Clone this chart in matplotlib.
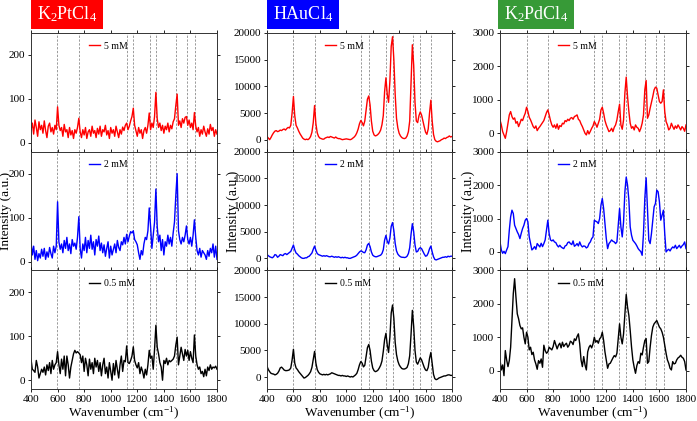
import numpy as np
import matplotlib
matplotlib.use('Agg')
import matplotlib.pyplot as plt

plt.rcParams['font.family'] = 'Liberation Serif'
plt.rcParams['mathtext.fontset'] = 'custom'
plt.rcParams['mathtext.rm'] = 'Liberation Serif'
plt.rcParams['mathtext.it'] = 'Liberation Serif:italic'

# spectra sampled every 10 cm-1 from 400 to 1800
pt_5mM = [30, 45, 20, 52, 35, 15, 48, 30, 40, 22, 50, 28, 12, 38, 45, 25, 35, 20, 40, 30,
          82, 40, 28, 35, 15, 42, 25, 30, 12, 35, 18, 28, 10, 30, 22, 35, 56, 25, 12, 30,
          18, 35, 10, 25, 30, 15, 38, 22, 28, 12, 33, 20, 38, 15, 30, 25, 40, 18, 28, 10,
          35, 22, 30, 15, 38, 25, 12, 30, 20, 36, 28, 40, 45, 30, 38, 50, 60, 79, 40, 28,
          15, 35, 22, 30, 10, 28, 35, 22, 40, 68, 30, 45, 35, 60, 115, 55, 35, 45, 28, 40,
          22, 38, 30, 45, 25, 40, 32, 48, 55, 85, 111, 40, 50, 35, 55, 45, 58, 60, 40, 52,
          35, 45, 30, 69, 38, 25, 35, 15, 30, 20, 38, 25, 15, 32, 20, 42, 28, 35, 15, 30, 20]
pt_2mM = [45, 15, 35, 5, 25, 2, 18, 8, 28, 12, 30, 5, 22, 10, 32, 18, 8, 35, 20, 35,
          136, 45, 28, 40, 20, 48, 30, 55, 25, 40, 18, 50, 35, 42, 28, 55, 102, 30, 8, 40,
          25, 55, 20, 48, 30, 60, 28, 45, 15, 50, 35, 58, 25, 42, 20, 38, 12, 30, 45, 8,
          35, 15, 28, 40, 20, 48, 32, 25, 45, 38, 55, 40, 62, 45, 58, 68, 65, 70, 50, 45,
          38, 20, 5, 25, 15, 40, 55, 50, 70, 122, 80, 30, 60, 90, 165, 80, 45, 60, 25, 50,
          15, 45, 35, 60, 40, 55, 35, 65, 90, 150, 200, 70, 50, 40, 55, 45, 60, 81, 50, 40,
          55, 35, 60, 95, 55, 25, 15, 30, 10, 25, 20, 15, 5, 25, 12, 30, 20, 40, 10, 35, 5]
pt_05mM = [48, 25, 22, 18, 45, 30, 5, 15, 25, 18, 30, 12, 35, 22, 40, 15, 45, 25, 35, 40,
           65, 35, 15, 48, 25, 55, 10, 55, 35, 5, 30, 45, 60, 68, 62, 65, 62, 58, 40, 55,
           20, 50, 35, 10, 48, 25, 40, 15, 50, 30, 45, 20, 40, 10, 35, 50, 15, 30, 5, 40,
           20, 0, 38, 12, 45, 25, 5, 35, 55, 20, 45, 42, 78, 40, 38, 45, 55, 76, 45, 35,
           28, 40, 15, 30, 20, 5, 25, 12, 35, 68, 50, 55, 25, 70, 125, 75, 60, 40, 30, 0,
           45, 38, 50, 35, 45, 42, 45, 48, 55, 80, 98, 35, 55, 75, 60, 45, 70, 55, 68, 45,
           65, 50, 40, 103, 55, 35, 25, 30, 15, 20, 8, 25, 10, 30, 22, 35, 25, 30, 28, 32, 25]

au_5mM = [600, 300, 0, 400, 900, 1300, 1600, 1700, 1500, 1600, 1800, 1700, 1900, 2000, 1800,
          2100, 2300, 2200, 2700, 5000, 8100, 4500, 2700, 2200, 1600, 1100, 700, 300, 100, 0,
          100, 0, 200, 600, 1400, 3200, 6400, 3000, 1300, 600, 300, 200, 100, 100, 300,
          400, 500, 400, 600, 500, 400, 300, 500, 300, 200, 200, 100, 0, 50, 100,
          150, 100, 50, 0, 100, 300, 500, 800, 1300, 2000, 3000, 3600, 3200, 2600, 3500,
          5500, 7600, 8200, 6500, 3500, 1600, 900, 700, 800, 1000, 1300, 1800, 2800, 4500, 9000,
          11600, 8500, 7000, 11000, 17500, 19300, 15000, 8500, 4000, 2200, 1200, 700, 400, 250, 200,
          300, 700, 1500, 3500, 10500, 17800, 14000, 7000, 3500, 3200, 4500, 5200, 4600, 3500, 2400,
          1400, 1000, 2000, 5000, 7400, 3500, 1000, 0, -300, -400, -300, -200, 0, 100, 300,
          200, 400, 500, 700, 500, 600]
au_2mM = [700, 500, 300, 200, 100, 300, 700, 600, 200, 400, 700, 600, 500, 800, 900,
          700, 900, 1100, 1300, 1900, 2500, 1600, 1000, 800, 500, 300, 100, 0, 0, 100,
          100, 300, 400, 700, 1000, 1700, 2300, 1500, 900, 700, 600, 500, 400, 500, 400,
          500, 400, 300, 300, 400, 300, 200, 300, 200, 300, 200, 100, 200, 100, 200,
          100, 100, 0, 0, 100, 200, 300, 400, 600, 900, 1200, 1400, 1300, 1100, 1050,
          1600, 2500, 2800, 2200, 1200, 600, 400, 300, 300, 400, 500, 600, 900, 1600, 3400,
          4300, 3200, 2700, 3800, 6000, 6700, 5200, 2800, 1400, 800, 500, 300, 200, 200, 150,
          200, 400, 900, 2000, 4500, 6500, 5000, 2500, 1200, 1300, 1800, 2000, 1800, 1300, 800,
          400, 500, 1000, 1800, 2300, 1200, 300, -200, -300, -200, -100, 0, 100, 200, 200,
          300, 200, 400, 300, 400, 400]
au_05mM = [2000, 1400, 1000, 700, 600, 550, 400, 500, 700, 1100, 1700, 1850, 1600, 1300, 1200,
           1200, 1250, 1350, 1700, 3200, 5200, 2600, 1700, 1400, 1000, 700, 400, 100, -200, -100,
           100, 300, 600, 1000, 1800, 3300, 4800, 2600, 1400, 900, 600, 500, 400, 500, 400,
           500, 400, 500, 600, 800, 700, 600, 500, 400, 300, 300, 200, 300, 200, 200,
           100, 200, 100, 0, 100, 0, 200, 400, 700, 1400, 2300, 2900, 2600, 1900, 2200,
           3800, 5500, 6100, 5000, 3000, 1700, 1200, 1000, 1100, 1300, 1700, 2200, 3000, 4800, 7000,
           8200, 6000, 4600, 7500, 12000, 13500, 11000, 6500, 4200, 3000, 2300, 1900, 1600, 1500, 1500,
           1600, 1800, 2500, 4000, 8000, 12500, 9500, 5000, 2800, 2400, 3000, 3600, 3200, 2500, 1800,
           1300, 1200, 1800, 3500, 4600, 2500, 500, -300, -500, -400, -200, -100, 0, 100, 200,
           200, 300, 400, 400, 300, 300]

pd_5mM = [400, 250, 50, -50, -150, 50, 300, 550, 650, 500, 420, 460, 300, 350, 200,
          300, 420, 380, 500, 600, 780, 650, 480, 400, 300, 200, 150, 220, 80, 150,
          200, 260, 320, 380, 500, 620, 700, 550, 380, 250, 180, 250, 150, 280, 120,
          230, 200, 300, 280, 380, 350, 420, 380, 450, 470, 420, 500, 520, 550, 420,
          380, 280, 200, 100, 0, -50, 80, -20, 60, 150, 220, 350, 280, 180, 300,
          420, 700, 780, 600, 380, 250, 150, 50, 80, 150, 50, 180, 250, 400, 650,
          870, 250, 120, 400, 1200, 1680, 1100, 650, 300, 150, 200, 100, 250, 180, 150,
          50, 150, 300, 550, 1300, 1580, 450, 550, 750, 920, 1100, 1300, 1380, 1350, 1150,
          950, 900, 950, 1300, 650, 350, 250, 100, 150, 300, 200, 120, 220, 150, 250,
          180, 100, 200, 150, 60, 250]
pd_2mM = [300, 60, -40, 20, -50, 60, 160, 650, 1050, 1250, 1150, 800, 700, 600, 520,
          400, 560, 700, 800, 950, 1000, 900, 450, 260, 60, 100, 160, 80, 250, 200,
          150, 260, 160, 250, 360, 650, 950, 550, 360, 330, 360, 300, 280, 200, 150,
          200, 150, 120, 100, 180, 200, 280, 300, 250, 220, 330, 170, 200, 250, 180,
          300, 200, 150, 180, 170, 120, 150, 250, 300, 400, 450, 950, 920, 900, 850,
          1000, 1400, 1600, 1300, 850, 400, 100, 250, 300, 360, 320, 300, 250, 300, 800,
          1300, 750, 450, 900, 1800, 2240, 2000, 1550, 750, 500, 350, 300, 250, 180, 100,
          50, 10, -100, 550, 1600, 2220, 1250, 350, 250, 550, 950, 1350, 1450, 1850, 1800,
          1500, 950, 1100, 1250, 550, 0, 50, 80, 30, 100, 150, 120, 200, 100, 150,
          200, 120, 180, 220, 300, 100]
pd_05mM = [320, 20, 170, -150, 600, 320, 120, 300, 700, 1500, 2300, 2750, 2200, 1700, 1550,
           1350, 1250, 1280, 1000, 800, 1150, 1000, 620, 700, 480, 550, 320, 200, 40, 300,
           220, 350, 100, 760, 600, 520, 560, 700, 660, 620, 720, 900, 770, 650, 760,
           820, 680, 850, 720, 780, 820, 700, 760, 880, 850, 780, 950, 900, 1020, 1100,
           800, 320, 120, 420, 170, 20, 560, 700, 760, 680, 800, 1000, 850, 900, 820,
           950, 1000, 1150, 900, 560, 320, 70, 200, 220, 300, 380, 450, 410, 520, 960,
           1400, 1000, 800, 1100, 1700, 2280, 1900, 1650, 1200, 710, 320, 100, -80, 150, 270,
           220, 520, 470, 700, 900, 960, 220, 270, 700, 1050, 1300, 1400, 1450, 1500, 1400,
           1300, 1250, 1150, 1000, 760, 520, 320, 220, 70, 20, 270, 200, 220, 320, 380,
           410, 460, 400, 370, 270, 20]

salts = ['K$_\\mathregular{2}$PtCl$_\\mathregular{4}$', 'HAuCl$_\\mathregular{4}$',
         'K$_\\mathregular{2}$PdCl$_\\mathregular{4}$']
salt_colors = ['#ff0000', '#0000ff', '#379a37']
conc_labels = ['5 mM', '2 mM', '0.5 mM']
conc_colors = ['#ff0000', '#0000ff', '#000000']
spectra = [[pt_5mM, pt_2mM, pt_05mM],
           [au_5mM, au_2mM, au_05mM],
           [pd_5mM, pd_2mM, pd_05mM]]
peak_lines = [[598, 760, 1123, 1171, 1292, 1340, 1495, 1573, 1632],
              [597, 761, 1115, 1170, 1299, 1352, 1503, 1561, 1640],
              [604, 759, 1111, 1171, 1299, 1350, 1495, 1571, 1631]]
ylims = [(-20, 250), (-2250, 20000), (-550, 3000)]
yticks = [[0, 100, 200], [0, 5000, 10000, 15000, 20000], [0, 1000, 2000, 3000]]
ylabel_x = [-0.103, -0.145, -0.135]

W, H = 697, 421
fig = plt.figure(figsize=(W / 100, H / 100), dpi=100)

lefts = [31, 267, 500]
widths = [186, 185, 186]
top, panel_h = 33, 118.67

for c in range(3):
    for r in range(3):
        bottom = H - (top + panel_h * (r + 1))
        ax = fig.add_axes([lefts[c] / W, bottom / H, widths[c] / W, panel_h / H])
        y = np.array(spectra[c][r])
        x = np.linspace(400, 1800, len(y))
        for p in peak_lines[c]:
            ax.axvline(p, color='#808080', ls=(0, (3, 2)), lw=0.55, zorder=1)
        ax.plot(x, y, color=conc_colors[r], lw=1.0, label=conc_labels[r], zorder=2)
        ax.set_xlim(400, 1800)
        ax.set_ylim(*ylims[c])
        ax.set_yticks(yticks[c])
        ax.set_xticks(range(400, 1801, 200))
        ax.tick_params(direction='out', length=2.5, width=0.6, labelsize=8,
                       top=True, right=True, pad=1.5)
        for s in ax.spines.values():
            s.set_linewidth(0.7)
            s.set_color('#333333')
        if r < 2:
            ax.set_xticklabels([])
        else:
            ax.set_xlabel('Wavenumber (cm$^{\\mathregular{-1}}$)', fontsize=9.5, labelpad=1)
        if r == 1:
            ax.set_ylabel('Intensity (a.u.)', fontsize=9.5 if c == 0 else 10)
            ax.yaxis.set_label_coords(ylabel_x[c], 0.5)
        ax.legend(loc='upper left', bbox_to_anchor=(0.29, 0.96), frameon=False,
                  fontsize=7, handlelength=1.2, handletextpad=0.4, borderaxespad=0)

    fig.text((lefts[c] + 36) / W, 1 - 14 / H, salts[c], fontsize=13, color='white',
             ha='center', va='center',
             bbox=dict(boxstyle='square,pad=0.3', fc=salt_colors[c], ec='none'))

fig.savefig('out.png', dpi=100)
